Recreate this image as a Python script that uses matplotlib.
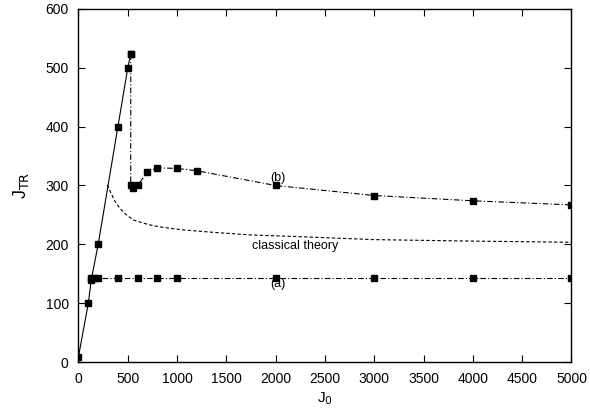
import matplotlib
matplotlib.use("Agg")
import matplotlib.pyplot as plt

plt.rcParams['font.family'] = ['Liberation Sans', 'DejaVu Sans']

# solid rising branch
rise_x = [0, 100, 130, 200, 400, 500, 530]
rise_y = [9, 100, 140, 200, 400, 500, 523]

# series (b)
b_x = [530, 530, 550, 600, 700, 800, 1000, 1200, 2000, 3000, 4000, 5000]
b_y = [523, 300, 295, 300, 323, 330, 329, 325, 300, 283, 274, 267]

# series (a)
a_x = [130, 160, 200, 400, 600, 800, 1000, 2000, 3000, 4000, 5000]
a_y = [143, 143, 143, 143, 143, 143, 143, 143, 143, 143, 143]

# classical theory curve
c_x = [292, 330, 370, 420, 480, 555, 640, 725, 850, 1060, 1400, 1740, 2250, 3000, 4000, 5000]
c_y = [301, 287, 273, 261, 251, 241.5, 237, 233, 229, 224.5, 220, 216, 213, 208, 205.5, 203.5]

xticks = [0, 500, 1000, 1500, 2000, 2500, 3000, 3500, 4000, 4500, 5000]
yticks = [0, 100, 200, 300, 400, 500, 600]

fig = plt.figure(figsize=(5.9, 4.08), dpi=100)
ax = fig.add_axes([0.133, 0.1127, 0.8356, 0.8653])

lw = 0.8
ms = 5
dashdot = (0, (5, 2, 1, 2))
ax.plot(rise_x, rise_y, color='black', lw=lw, marker='s', ms=ms)
ax.plot(b_x, b_y, color='black', lw=lw, ls=dashdot, marker='s', ms=ms)
ax.plot(a_x, a_y, color='black', lw=lw, ls=dashdot, marker='s', ms=ms)
ax.plot(c_x, c_y, color='black', lw=lw, ls=(0, (3, 2)))

ax.text(2025, 313, '(b)', ha='center', va='center', fontsize=9)
ax.text(2195, 196.5, 'classical theory', ha='center', va='center', fontsize=9)
ax.text(2025, 132.5, '(a)', ha='center', va='center', fontsize=9)

ax.set_xlim(0, 5000)
ax.set_ylim(0, 600)
ax.set_xticks(xticks)
ax.set_yticks(yticks)
ax.tick_params(direction='in', length=5, width=0.8, top=True, right=True, labelsize=10)
ax.tick_params(axis='x', pad=7)
ax.tick_params(axis='y', pad=7)
for s in ax.spines.values():
    s.set_linewidth(1.0)

ax.set_xlabel(r'J$_0$', fontsize=11, labelpad=3)
ax.set_ylabel(r'J$_{\mathrm{TR}}$', fontsize=13, labelpad=10)

fig.savefig('out.png', dpi=100)
